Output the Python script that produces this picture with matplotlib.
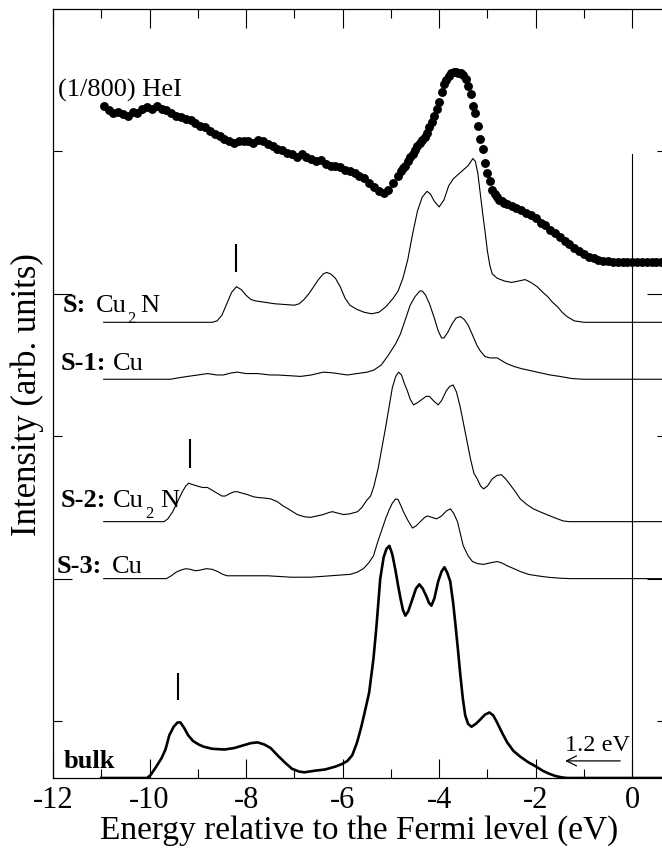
import matplotlib
matplotlib.use("Agg")
import matplotlib.pyplot as plt
from matplotlib.ticker import FixedLocator

SERIF = ['Liberation Serif', 'DejaVu Serif']
plt.rcParams['font.family'] = SERIF
plt.rcParams['axes.unicode_minus'] = False

# ---------------- data ----------------
hei_E = [-10.95, -10.85, -10.75, -10.65, -10.55, -10.45, -10.35, -10.25, -10.15, -10.05,
         -9.95, -9.85, -9.75, -9.65, -9.55, -9.45, -9.35, -9.25, -9.15, -9.05,
         -8.95, -8.85, -8.75, -8.65, -8.55, -8.45, -8.35, -8.25, -8.15, -8.05,
         -7.95, -7.85, -7.75, -7.65, -7.55, -7.45, -7.35, -7.25, -7.15, -7.05,
         -6.95, -6.85, -6.75, -6.65, -6.55, -6.45, -6.35, -6.25, -6.15, -6.05,
         -5.95, -5.85, -5.75, -5.65, -5.55, -5.45, -5.35, -5.25, -5.15, -5.05,
         -4.95, -4.85, -4.80, -4.75, -4.70, -4.65, -4.60, -4.55, -4.50, -4.45,
         -4.40, -4.35, -4.30, -4.25, -4.20, -4.15, -4.10, -4.05, -4.00, -3.95,
         -3.90, -3.85, -3.80, -3.75, -3.70, -3.65, -3.60, -3.55, -3.50, -3.45,
         -3.40, -3.35, -3.30, -3.25, -3.20, -3.15, -3.10, -3.05, -3.00, -2.95,
         -2.90, -2.85, -2.80, -2.75, -2.70, -2.65, -2.60, -2.50, -2.40, -2.30,
         -2.20, -2.10, -2.00, -1.90, -1.80, -1.70, -1.60, -1.50, -1.40, -1.30,
         -1.20, -1.10, -1.00, -0.90, -0.80, -0.70, -0.60, -0.50, -0.40, -0.30,
         -0.20, -0.10, 0.00, 0.10, 0.20, 0.30, 0.40, 0.50, 0.60]
hei_I = [4.32, 4.29, 4.27, 4.28, 4.26, 4.25, 4.28, 4.27, 4.30, 4.31,
         4.30, 4.32, 4.30, 4.29, 4.27, 4.25, 4.24, 4.23, 4.22, 4.20,
         4.18, 4.17, 4.14, 4.12, 4.11, 4.09, 4.07, 4.06, 4.07, 4.07,
         4.07, 4.06, 4.08, 4.07, 4.05, 4.04, 4.02, 4.01, 3.99, 3.98,
         3.96, 3.98, 3.96, 3.95, 3.93, 3.94, 3.91, 3.90, 3.90, 3.89,
         3.87, 3.86, 3.85, 3.83, 3.81, 3.78, 3.75, 3.72, 3.71, 3.73,
         3.78, 3.83, 3.86, 3.88, 3.90, 3.93, 3.96, 3.98, 4.01, 4.04,
         4.06, 4.08, 4.10, 4.13, 4.17, 4.21, 4.25, 4.30, 4.35, 4.42,
         4.47, 4.50, 4.53, 4.55, 4.56, 4.56, 4.55, 4.55, 4.54, 4.51,
         4.46, 4.40, 4.32, 4.27, 4.18, 4.09, 4.02, 3.92, 3.85, 3.79,
         3.73, 3.70, 3.68, 3.66, 3.65, 3.64, 3.63, 3.62, 3.60, 3.59,
         3.57, 3.55, 3.53, 3.50, 3.48, 3.45, 3.43, 3.40, 3.37, 3.35,
         3.32, 3.30, 3.28, 3.26, 3.25, 3.24, 3.23, 3.23, 3.22, 3.22,
         3.22, 3.22, 3.22, 3.22, 3.22, 3.22, 3.22, 3.22, 3.22]

s_E = [-10.95, -8.70, -8.60, -8.50, -8.40, -8.30, -8.20, -8.10, -8.00, -7.90,
       -7.80, -7.60, -7.40, -7.20, -7.00, -6.90, -6.80, -6.70, -6.60, -6.50,
       -6.40, -6.33, -6.25, -6.15, -6.05, -5.95, -5.85, -5.70, -5.55, -5.40,
       -5.25, -5.10, -4.95, -4.85, -4.75, -4.65, -4.55, -4.45, -4.35, -4.25,
       -4.18, -4.10, -4.00, -3.90, -3.80, -3.70, -3.60, -3.50, -3.40, -3.30,
       -3.25, -3.20, -3.15, -3.10, -3.05, -3.00, -2.95, -2.90, -2.80, -2.65,
       -2.50, -2.35, -2.22, -2.10, -1.97, -1.85, -1.75, -1.65, -1.55, -1.45,
       -1.35, -1.20, -1.00, 0.70]
s_I = [2.80, 2.80, 2.81, 2.85, 2.93, 3.01, 3.05, 3.03, 2.99, 2.96,
       2.95, 2.94, 2.93, 2.925, 2.92, 2.93, 2.96, 3.00, 3.05, 3.10,
       3.14, 3.15, 3.14, 3.11, 3.05, 2.97, 2.92, 2.89, 2.87, 2.86,
       2.87, 2.91, 2.97, 3.02, 3.11, 3.24, 3.42, 3.58, 3.68, 3.72,
       3.70, 3.65, 3.61, 3.66, 3.76, 3.81, 3.84, 3.87, 3.90, 3.95,
       3.93, 3.85, 3.71, 3.57, 3.44, 3.30, 3.20, 3.14, 3.11, 3.09,
       3.08, 3.09, 3.10, 3.08, 3.05, 3.01, 2.98, 2.94, 2.91, 2.87,
       2.84, 2.81, 2.80, 2.80]

s1_E = [-10.95, -9.57, -9.40, -9.21, -9.00, -8.80, -8.60, -8.47, -8.30, -8.18,
        -8.00, -7.76, -7.50, -7.35, -7.10, -6.87, -6.65, -6.40, -6.20, -5.90,
        -5.70, -5.49, -5.35, -5.20, -5.05, -4.90, -4.80, -4.70, -4.60, -4.50,
        -4.40, -4.35, -4.28, -4.20, -4.10, -4.02, -3.95, -3.90, -3.82, -3.73,
        -3.65, -3.56, -3.48, -3.40, -3.32, -3.22, -3.15, -3.05, -2.95, -2.80,
        -2.70, -2.60, -2.45, -2.30, -2.10, -1.90, -1.70, -1.50, -1.25, -1.00, 0.70]
s1_I = [2.40, 2.40, 2.41, 2.42, 2.43, 2.44, 2.43, 2.43, 2.445, 2.45,
        2.44, 2.44, 2.43, 2.43, 2.425, 2.42, 2.43, 2.45, 2.445, 2.43,
        2.44, 2.45, 2.465, 2.50, 2.57, 2.65, 2.72, 2.82, 2.92, 2.98,
        3.02, 3.02, 2.99, 2.93, 2.83, 2.74, 2.69, 2.69, 2.73, 2.79,
        2.83, 2.84, 2.82, 2.78, 2.72, 2.64, 2.60, 2.56, 2.55, 2.55,
        2.53, 2.51, 2.49, 2.475, 2.46, 2.445, 2.43, 2.42, 2.405, 2.40, 2.40]

s2_E = [-10.95, -9.70, -9.62, -9.52, -9.42, -9.32, -9.25, -9.19, -9.10, -9.01,
        -8.90, -8.80, -8.70, -8.60, -8.50, -8.43, -8.35, -8.25, -8.18, -8.08,
        -7.97, -7.85, -7.76, -7.60, -7.49, -7.35, -7.23, -7.08, -6.94, -6.80,
        -6.67, -6.53, -6.40, -6.28, -6.21, -6.10, -5.98, -5.85, -5.69, -5.60,
        -5.50, -5.42, -5.35, -5.26, -5.18, -5.11, -5.04, -4.97, -4.90, -4.84,
        -4.78, -4.72, -4.66, -4.60, -4.53, -4.45, -4.35, -4.27, -4.20, -4.12,
        -4.02, -3.95, -3.85, -3.78, -3.71, -3.64, -3.56, -3.49, -3.42, -3.35,
        -3.28, -3.21, -3.14, -3.08, -3.00, -2.90, -2.80, -2.71, -2.62, -2.53,
        -2.42, -2.32, -2.18, -2.05, -1.88, -1.70, -1.55, -1.43, -1.30, 0.70]
s2_I = [1.40, 1.40, 1.42, 1.47, 1.54, 1.61, 1.65, 1.67, 1.66, 1.65,
        1.64, 1.64, 1.62, 1.60, 1.58, 1.58, 1.595, 1.61, 1.61, 1.60,
        1.59, 1.575, 1.57, 1.565, 1.56, 1.54, 1.51, 1.48, 1.45, 1.435,
        1.43, 1.44, 1.45, 1.465, 1.47, 1.46, 1.45, 1.455, 1.47, 1.50,
        1.55, 1.58, 1.65, 1.78, 1.93, 2.06, 2.20, 2.34, 2.42, 2.45,
        2.43, 2.37, 2.32, 2.26, 2.22, 2.235, 2.26, 2.28, 2.28, 2.25,
        2.22, 2.25, 2.32, 2.35, 2.36, 2.31, 2.20, 2.08, 1.96, 1.84,
        1.74, 1.70, 1.65, 1.63, 1.65, 1.70, 1.725, 1.73, 1.70, 1.66,
        1.61, 1.56, 1.52, 1.49, 1.465, 1.44, 1.42, 1.405, 1.40, 1.40]

s3_E = [-10.95, -9.65, -9.55, -9.45, -9.35, -9.25, -9.15, -9.05, -8.95, -8.82,
        -8.70, -8.59, -8.48, -8.39, -8.20, -8.05, -7.80, -7.56, -7.30, -7.08,
        -6.85, -6.67, -6.45, -6.25, -6.05, -5.84, -5.70, -5.57, -5.46, -5.36,
        -5.28, -5.20, -5.11, -5.04, -4.97, -4.90, -4.85, -4.79, -4.74, -4.65,
        -4.55, -4.48, -4.39, -4.30, -4.24, -4.15, -4.05, -3.95, -3.85, -3.77,
        -3.70, -3.62, -3.55, -3.50, -3.40, -3.31, -3.20, -3.08, -2.95, -2.80,
        -2.70, -2.59, -2.45, -2.32, -2.15, -1.97, -1.75, -1.50, -1.28, 0.70]
s3_I = [1.00, 1.00, 1.02, 1.045, 1.06, 1.07, 1.065, 1.055, 1.06, 1.07,
        1.065, 1.05, 1.03, 1.02, 1.02, 1.02, 1.02, 1.02, 1.015, 1.01,
        1.01, 1.01, 1.015, 1.02, 1.025, 1.03, 1.045, 1.07, 1.11, 1.16,
        1.25, 1.33, 1.42, 1.48, 1.53, 1.56, 1.555, 1.51, 1.47, 1.41,
        1.355, 1.37, 1.40, 1.43, 1.44, 1.43, 1.42, 1.44, 1.475, 1.49,
        1.46, 1.40, 1.30, 1.23, 1.16, 1.12, 1.105, 1.10, 1.11, 1.12,
        1.11, 1.09, 1.07, 1.05, 1.03, 1.02, 1.01, 1.003, 1.00, 1.00]

bulk_E = [-11.00, -10.05, -9.98, -9.88, -9.75, -9.67, -9.59, -9.50, -9.42, -9.36,
          -9.28, -9.20, -9.10, -8.98, -8.88, -8.70, -8.45, -8.25, -8.05, -7.90,
          -7.76, -7.62, -7.49, -7.35, -7.20, -7.05, -6.90, -6.79, -6.60, -6.36,
          -6.15, -6.00, -5.90, -5.80, -5.70, -5.62, -5.55, -5.45, -5.36, -5.30,
          -5.22, -5.15, -5.09, -5.03, -4.97, -4.90, -4.85, -4.80, -4.75, -4.70,
          -4.64, -4.55, -4.48, -4.41, -4.34, -4.27, -4.21, -4.16, -4.10, -4.02,
          -3.95, -3.89, -3.83, -3.77, -3.71, -3.66, -3.61, -3.56, -3.51, -3.46,
          -3.40, -3.33, -3.24, -3.15, -3.05, -2.96, -2.88, -2.80, -2.70, -2.59,
          -2.46, -2.32, -2.15, -1.99, -1.85, -1.72, -1.60, -1.47, -1.35, 0.70]
bulk_I = [-0.40, -0.40, -0.38, -0.33, -0.26, -0.20, -0.10, -0.04, -0.01, -0.01,
          -0.05, -0.10, -0.14, -0.165, -0.18, -0.195, -0.20, -0.19, -0.17, -0.155,
          -0.15, -0.165, -0.19, -0.24, -0.29, -0.335, -0.355, -0.36, -0.35, -0.34,
          -0.32, -0.30, -0.28, -0.24, -0.15, -0.05, 0.05, 0.20, 0.44, 0.66,
          1.00, 1.15, 1.21, 1.23, 1.17, 1.05, 0.95, 0.86, 0.78, 0.74,
          0.77, 0.86, 0.93, 0.96, 0.93, 0.88, 0.83, 0.81, 0.86, 0.98,
          1.05, 1.08, 1.04, 0.98, 0.83, 0.67, 0.50, 0.32, 0.16, 0.04,
          -0.02, -0.04, -0.02, 0.01, 0.045, 0.06, 0.04, -0.01, -0.08, -0.15,
          -0.21, -0.25, -0.29, -0.32, -0.35, -0.37, -0.385, -0.395, -0.40, -0.40]

# vertical marker bars (energy, bottom, top)
mark_E = [-8.20, -9.17, -9.40]
mark_lo = [3.15, 1.78, 0.15]
mark_hi = [3.35, 1.98, 0.34]

xtick_vals = [-12, -10, -8, -6, -4, -2, 0]
xtick_labels = ['-12', '-10', '-8', '-6', '-4', '-2', '0']

# ---------------- figure ----------------
fig = plt.figure(figsize=(6.62, 8.53), dpi=100)
ax = fig.add_axes([53 / 662, 74 / 853, 613 / 662, 769 / 853])

ax.plot(hei_E, hei_I, 'o', color='black', markersize=6.4, markeredgewidth=0)
ax.plot(s_E, s_I, color='black', lw=0.8)
ax.plot(s1_E, s1_I, color='black', lw=0.8)
ax.plot(s2_E, s2_I, color='black', lw=0.8)
ax.plot(s3_E, s3_I, color='black', lw=0.8)
ax.plot(bulk_E, bulk_I, color='black', lw=1.9, solid_joinstyle='round')
ax.vlines(mark_E, mark_lo, mark_hi, color='black', lw=1.5)

# Fermi level line
ax.plot([0, 0], [3.98, -0.4], color='black', lw=0.8)

ax.set_xlim(-12, 0.70)
ax.set_ylim(-0.4, 5.0)

ax.xaxis.set_major_locator(FixedLocator(xtick_vals))
ax.set_xticklabels(xtick_labels, fontfamily=SERIF, fontsize=22)
ax.xaxis.set_minor_locator(FixedLocator([-11, -9, -7, -5, -3, -1]))
ax.yaxis.set_major_locator(FixedLocator([1, 3]))
ax.yaxis.set_minor_locator(FixedLocator([0, 2, 4]))
ax.set_yticklabels([])
ax.tick_params(which='both', direction='in', top=True, right=True, width=0.8, color='black')
ax.tick_params(which='major', length=13.5)
ax.tick_params(which='minor', length=6.5)
ax.tick_params(axis='x', pad=5)
for sp in ax.spines.values():
    sp.set_linewidth(0.9)

ax.set_xlabel('Energy relative to the Fermi level (eV)', fontsize=24, labelpad=0,
              fontfamily=SERIF)
ax.set_ylabel('Intensity (arb. units)', fontsize=25, labelpad=3, fontfamily=SERIF)

fs = 19
sub = 12
ax.text(-11.90, 4.39, '(1/800) HeI', fontsize=fs, va='baseline', ha='left')
# S: Cu2 N
ax.text(-11.80, 2.877, 'S:', fontsize=fs, fontweight='bold', va='baseline', ha='left')
ax.text(-11.12, 2.877, 'Cu', fontsize=fs, va='baseline', ha='left')
ax.text(-10.47, 2.80, '2', fontsize=sub, va='baseline', ha='left')
ax.text(-10.19, 2.877, 'N', fontsize=fs, va='baseline', ha='left')
# S-1: Cu
ax.text(-11.84, 2.47, 'S-1:', fontsize=fs, fontweight='bold', va='baseline', ha='left')
ax.text(-10.75, 2.47, 'Cu', fontsize=fs, va='baseline', ha='left')
# S-2: Cu2 N
ax.text(-11.84, 1.509, 'S-2:', fontsize=fs, fontweight='bold', va='baseline', ha='left')
ax.text(-10.75, 1.509, 'Cu', fontsize=fs, va='baseline', ha='left')
ax.text(-10.09, 1.43, '2', fontsize=sub, va='baseline', ha='left')
ax.text(-9.78, 1.509, 'N', fontsize=fs, va='baseline', ha='left')
# S-3: Cu
ax.text(-11.93, 1.05, 'S-3:', fontsize=fs, fontweight='bold', va='baseline', ha='left')
ax.text(-10.77, 1.05, 'Cu', fontsize=fs, va='baseline', ha='left')
# bulk
ax.text(-11.78, -0.32, 'bulk', fontsize=fs, fontweight='bold', va='baseline', ha='left')

ax.text(-1.39, -0.20, '1.2 eV', fontsize=17.5, va='baseline', ha='left')
ax.annotate('', xy=(-1.39, -0.28), xytext=(-0.25, -0.28),
            arrowprops=dict(arrowstyle='->', lw=0.9, color='black',
                            mutation_scale=18, shrinkA=0, shrinkB=0))

fig.savefig('out.png', dpi=100)
